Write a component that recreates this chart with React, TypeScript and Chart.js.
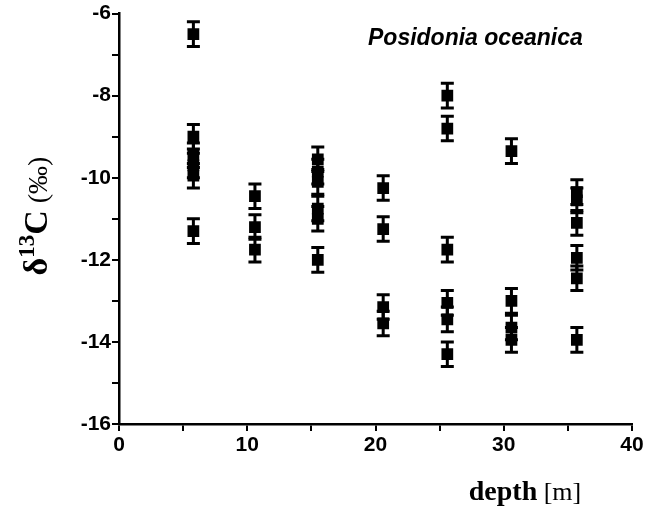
import React, { useEffect, useRef } from 'react';
import { Chart, registerables } from 'chart.js';

Chart.register(...registerables);

// depth of each sample [m]
const depthM = [
  5.8, 5.8, 5.8, 5.8, 5.8, 5.8,
  10.6, 10.6, 10.6,
  15.5, 15.5, 15.5, 15.5, 15.5, 15.5,
  20.6, 20.6, 20.6, 20.6,
  25.6, 25.6, 25.6, 25.6, 25.6, 25.6,
  30.6, 30.6, 30.6, 30.6,
  35.7, 35.7, 35.7, 35.7, 35.7, 35.7,
];
// delta 13C values (permil)
const delta13C = [
  -6.5, -9.0, -9.45, -9.7, -9.95, -11.3,
  -10.45, -11.2, -11.75,
  -9.55, -9.85, -10.1, -10.75, -11.0, -12.0,
  -10.25, -11.25, -13.15, -13.55,
  -8.0, -8.8, -11.75, -13.05, -13.45, -14.3,
  -9.35, -13.0, -13.65, -13.95,
  -10.35, -10.55, -11.1, -11.95, -12.45, -13.95,
];
// error (+/-) of each value (permil)
const errorPermil = delta13C.map(() => 0.3);

const xMin = 0;
const xMax = 40;
const xLabelStep = 10;
const yMin = -16;
const yMax = -6;
const yLabelStep = 2;
const titleText = 'Posidonia oceanica';

const errorBarsPlugin = {
  id: 'errorBars',
  beforeDatasetsDraw(chart: any) {
    const { ctx } = chart;
    const x = chart.scales.x;
    const y = chart.scales.y;
    ctx.save();
    ctx.strokeStyle = '#000';
    ctx.lineWidth = 3;
    depthM.forEach((d, i) => {
      const px = x.getPixelForValue(d);
      const top = y.getPixelForValue(delta13C[i] + errorPermil[i]);
      const bot = y.getPixelForValue(delta13C[i] - errorPermil[i]);
      ctx.beginPath();
      ctx.moveTo(px, top);
      ctx.lineTo(px, bot);
      ctx.moveTo(px - 6.5, top);
      ctx.lineTo(px + 6.5, top);
      ctx.moveTo(px - 6.5, bot);
      ctx.lineTo(px + 6.5, bot);
      ctx.stroke();
    });
    ctx.restore();
  },
};

const labelsPlugin = {
  id: 'labels',
  afterDraw(chart: any) {
    const { ctx, chartArea } = chart;
    ctx.save();
    ctx.fillStyle = '#000';
    // title inside plot
    ctx.font = 'italic bold 23px "Liberation Sans", Arial, sans-serif';
    ctx.textBaseline = 'alphabetic';
    ctx.textAlign = 'left';
    ctx.fillText(titleText, chartArea.left + 249, chartArea.top + 31);

    // x axis title: "depth [m]"
    const f1 = 'bold 28px "Liberation Serif", "Times New Roman", serif';
    const f2 = '26px "Liberation Serif", "Times New Roman", serif';
    ctx.font = f1;
    const w1 = ctx.measureText('depth').width;
    ctx.font = f2;
    const w2 = ctx.measureText(' [m]').width;
    const cx = 525;
    const startX = cx - (w1 + w2) / 2;
    const base = 500;
    ctx.font = f1;
    ctx.fillText('depth', startX, base);
    ctx.font = f2;
    ctx.fillText(' [m]', startX + w1, base);

    // y axis title: δ13C (‰)
    const parts = [
      { t: 'δ', f: 'bold 34px "Liberation Serif", "Times New Roman", serif', dy: 0 },
      { t: '13', f: 'bold 23px "Liberation Serif", "Times New Roman", serif', dy: -13 },
      { t: 'C', f: 'bold 34px "Liberation Serif", "Times New Roman", serif', dy: 0 },
      { t: ' (‰)', f: '28px "Liberation Serif", "Times New Roman", serif', dy: 0 },
    ];
    let total = 0;
    const widths = parts.map((p) => {
      ctx.font = p.f;
      const w = ctx.measureText(p.t).width;
      total += w;
      return w;
    });
    ctx.translate(47, 216);
    ctx.rotate(-Math.PI / 2);
    let px = -total / 2;
    parts.forEach((p, i) => {
      ctx.font = p.f;
      ctx.fillText(p.t, px, p.dy);
      px += widths[i];
    });
    ctx.restore();
  },
};

export default function App() {
  const canvasRef = useRef<HTMLCanvasElement | null>(null);

  useEffect(() => {
    const canvas = canvasRef.current;
    if (!canvas) return;
    const points = depthM.map((d, i) => ({ x: d, y: delta13C[i] }));
    const tickFont = { family: '"Liberation Sans", Arial, sans-serif', size: 21, weight: 'bold' as const };
    const chart = new Chart(canvas, {
      type: 'scatter',
      data: {
        datasets: [
          {
            label: titleText,
            data: points,
            pointStyle: 'rect',
            pointRadius: 8.3,
            backgroundColor: '#000',
            borderColor: '#000',
            borderWidth: 0,
          },
        ],
      },
      options: {
        responsive: false,
        animation: false,
        layout: { padding: { top: 12, right: 29, left: 0, bottom: 0 } },
        plugins: {
          legend: { display: false },
          tooltip: { enabled: false },
          title: { display: false },
        },
        scales: {
          x: {
            type: 'linear',
            min: xMin,
            max: xMax,
            afterFit: (s: any) => {
              s.height = 85;
            },
            ticks: {
              stepSize: xLabelStep / 2,
              autoSkip: false,
              maxRotation: 0,
              color: '#000',
              font: tickFont,
              padding: 2,
              callback: (v: any) => (Number(v) % xLabelStep === 0 ? String(v) : ''),
            },
            grid: { drawOnChartArea: false, drawTicks: true, tickLength: 7, color: '#000', lineWidth: 2 },
            border: { display: true, color: '#000', width: 2.5 },
          },
          y: {
            type: 'linear',
            min: yMin,
            max: yMax,
            afterFit: (s: any) => {
              s.width = 119;
            },
            ticks: {
              stepSize: yLabelStep / 2,
              autoSkip: false,
              color: '#000',
              font: tickFont,
              padding: 1,
              callback: (v: any) => (Number(v) % yLabelStep === 0 ? String(v) : ''),
            },
            grid: { drawOnChartArea: false, drawTicks: true, tickLength: 7, color: '#000', lineWidth: 2 },
            border: { display: true, color: '#000', width: 2.5 },
          },
        },
      },
      plugins: [errorBarsPlugin, labelsPlugin],
    });
    return () => chart.destroy();
  }, []);

  return (
    <div style={{ position: 'fixed', left: 0, top: 0, width: 661, height: 509, background: '#fff' }}>
      <canvas ref={canvasRef} width={661} height={509} style={{ width: 661, height: 509, display: 'block' }} />
    </div>
  );
}
